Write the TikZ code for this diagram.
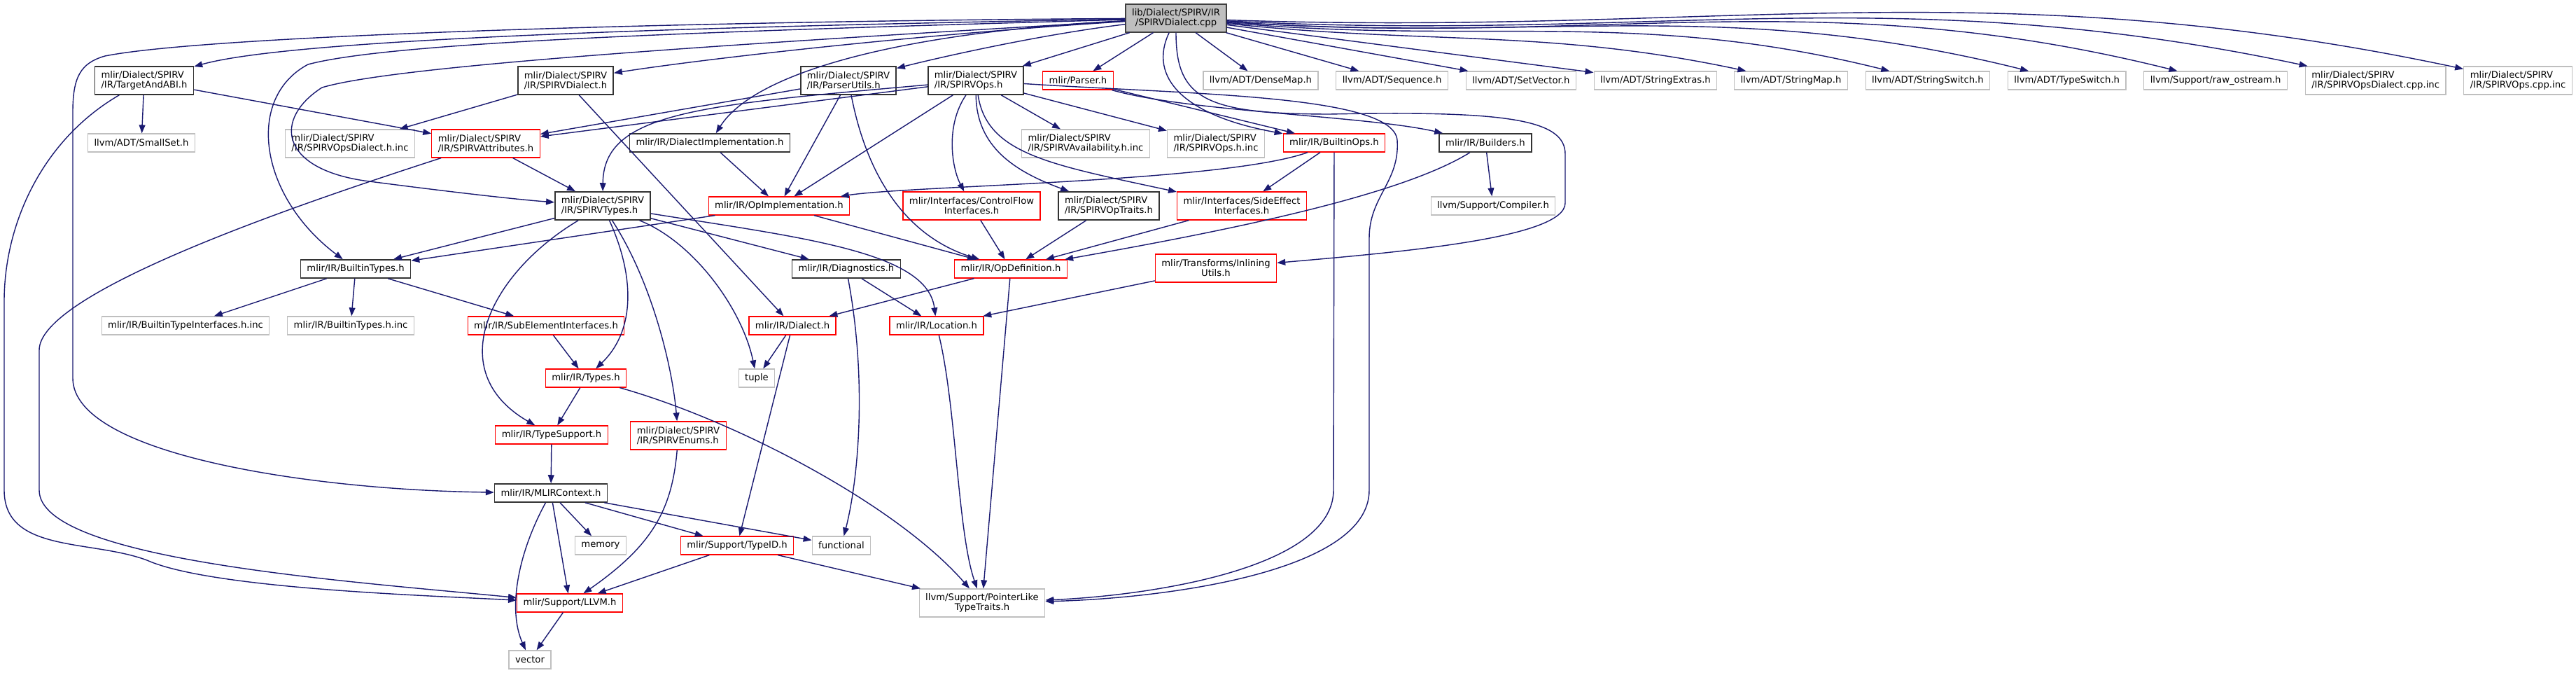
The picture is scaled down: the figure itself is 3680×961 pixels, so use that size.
\documentclass[tikz,border=0pt]{standalone}
\usepackage{xcolor}
\usepackage{fontspec}
\setmainfont{DejaVu Sans}
\usepackage{tikz}
\usetikzlibrary{arrows.meta, positioning}

\definecolor{edgeblue}{HTML}{191970}
\definecolor{leafgray}{HTML}{BFBFBF}

\begin{document}
\begin{tikzpicture}[
        x=0.01cm, y=-0.01cm,
        node distance=0.245cm,
        file/.style={rectangle, inner xsep=0.09cm, inner ysep=0.02cm, minimum height=0.26cm, align=center, font=\fontsize{3.75pt}{4pt}\selectfont, line width=0.35pt},
        two/.style={minimum height=0.40cm},
        lft/.style={align=left},
        cur/.style={file, draw=black!75, fill=leafgray},
        full/.style={file, draw=black!80, line width=0.45pt},
        trunc/.style={file, draw=red},
        leaf/.style={file, draw=leafgray},
        arrow/.style={draw=edgeblue, line width=0.4pt, -{Triangle[length=3.4pt, width=2.5pt]}}
    ]
    \useasboundingbox (0,0) rectangle (3680,961);

    \node (top) [cur, two] at (1680,26) {lib/Dialect/SPIRV/IR\\/SPIRVDialect.cpp};

    \node (tgt) [full, two, lft] at (206,115) {mlir/Dialect/SPIRV\\/IR/TargetAndABI.h};
    \node (dlh) [full, two, lft] at (808,115) {mlir/Dialect/SPIRV\\/IR/SPIRVDialect.h};
    \node (pu) [full, two, lft] at (1212,115) {mlir/Dialect/SPIRV\\/IR/ParserUtils.h};
    \node (ops) [full, two, lft] at (1394,115) {mlir/Dialect/SPIRV\\/IR/SPIRVOps.h};
    \node (parser) [trunc] at (1540,115) {mlir/Parser.h};
    \node (densemap) [leaf] at (1801,115) {llvm/ADT/DenseMap.h};
    \node (sequence) [leaf, right=of densemap] {llvm/ADT/Sequence.h};
    \node (setvector) [leaf, right=of sequence] {llvm/ADT/SetVector.h};
    \node (strextras) [leaf, right=of setvector] {llvm/ADT/StringExtras.h};
    \node (opscpp) [leaf, two, lft, anchor=east] at (3675,115) {mlir/Dialect/SPIRV\\/IR/SPIRVOps.cpp.inc};
    \node (opsdcpp) [leaf, two, lft, left=of opscpp] {mlir/Dialect/SPIRV\\/IR/SPIRVOpsDialect.cpp.inc};
    \node (rawos) [leaf, left=of opsdcpp] {llvm/Support/raw\_ostream.h};
    \node (typeswitch) [leaf, left=of rawos] {llvm/ADT/TypeSwitch.h};
    \node (strswitch) [leaf, left=of typeswitch] {llvm/ADT/StringSwitch.h};
    \node (strmap) [leaf, left=of strswitch] {llvm/ADT/StringMap.h};

    \node (smallset) [leaf] at (202,204) {llvm/ADT/SmallSet.h};
    \node (opsdinc) [leaf, two, lft] at (500,205) {mlir/Dialect/SPIRV\\/IR/SPIRVOpsDialect.h.inc};
    \node (attr) [trunc, two, lft] at (694,205) {mlir/Dialect/SPIRV\\/IR/SPIRVAttributes.h};
    \node (dimpl) [full] at (1014,204) {mlir/IR/DialectImplementation.h};
    \node (avail) [leaf, two, lft] at (1551,205) {mlir/Dialect/SPIRV\\/IR/SPIRVAvailability.h.inc};
    \node (opsinc) [leaf, two, lft] at (1737,205) {mlir/Dialect/SPIRV\\/IR/SPIRVOps.h.inc};
    \node (bops) [trunc] at (1906,204) {mlir/IR/BuiltinOps.h};
    \node (builders) [full] at (2122,204) {mlir/IR/Builders.h};

    \node (types) [full, two, lft] at (861,294) {mlir/Dialect/SPIRV\\/IR/SPIRVTypes.h};
    \node (opimpl) [trunc] at (1113,294) {mlir/IR/OpImplementation.h};
    \node (cfi) [trunc, two] at (1388,294) {mlir/Interfaces/ControlFlow\\Interfaces.h};
    \node (traits) [full, two, lft] at (1584,294) {mlir/Dialect/SPIRV\\/IR/SPIRVOpTraits.h};
    \node (sei) [trunc, two] at (1774,294) {mlir/Interfaces/SideEffect\\Interfaces.h};
    \node (compiler) [leaf] at (2133,294) {llvm/Support/Compiler.h};

    \node (btypes) [full] at (508,384) {mlir/IR/BuiltinTypes.h};
    \node (diag) [full] at (1209,384) {mlir/IR/Diagnostics.h};
    \node (opdef) [trunc] at (1444,384) {mlir/IR/OpDefinition.h};
    \node (inl) [trunc, two] at (1737,383) {mlir/Transforms/Inlining\\Utils.h};

    \node (btiinc) [leaf] at (265,465) {mlir/IR/BuiltinTypeInterfaces.h.inc};
    \node (btinc) [leaf] at (501,465) {mlir/IR/BuiltinTypes.h.inc};
    \node (subel) [trunc] at (780,465) {mlir/IR/SubElementInterfaces.h};
    \node (dialect) [trunc] at (1132,465) {mlir/IR/Dialect.h};
    \node (loc) [trunc] at (1338,465) {mlir/IR/Location.h};

    \node (typesh) [trunc] at (837,540) {mlir/IR/Types.h};
    \node (tuple) [leaf] at (1081,540) {tuple};
    \node (tsup) [trunc] at (788,621) {mlir/IR/TypeSupport.h};
    \node (enums) [trunc, two, lft] at (969,622) {mlir/Dialect/SPIRV\\/IR/SPIRVEnums.h};
    \node (ctx) [full] at (787,704) {mlir/IR/MLIRContext.h};
    \node (memory) [leaf] at (858,779) {memory};
    \node (typeid) [trunc] at (1053,779) {mlir/Support/TypeID.h};
    \node (functional) [leaf] at (1202,779) {functional};
    \node (llvmh) [trunc] at (814,861) {mlir/Support/LLVM.h};
    \node (plt) [leaf, two] at (1403,861) {llvm/Support/PointerLike\\TypeTraits.h};
    \node (vector) [leaf] at (757,942) {vector};

    % includes of the source file
    \draw [arrow] (top) .. controls (1000,38) and (420,55) .. (tgt);
    \draw [arrow] (top) .. controls (1000,30) and (300,50) .. (150,80) .. controls (115,90) and (104,110) .. (104,160) -- (104,540) .. controls (104,650) and (450,700) .. (ctx);
    \draw [arrow] (top) .. controls (1000,45) and (560,60) .. (440,92) .. controls (350,140) and (370,280) .. (btypes);
    \draw [arrow] (top) .. controls (1000,65) and (560,95) .. (460,125) .. controls (390,170) and (400,240) .. (520,258) .. controls (650,275) and (740,285) .. (types);
    \draw [arrow] (top) .. controls (1300,50) and (1000,85) .. (dlh);
    \draw [arrow] (top) .. controls (1300,45) and (1080,100) .. (dimpl);
    \draw [arrow] (top) .. controls (1480,50) and (1330,85) .. (pu);
    \draw [arrow] (top) -- (ops);
    \draw [arrow] (top) -- (parser);
    \draw [arrow] (top) .. controls (1640,110) and (1690,165) .. (bops);
    \draw [arrow] (top) .. controls (1680,140) and (1720,163) .. (1900,163) .. controls (2150,158) and (2236,170) .. (2236,220) -- (2236,290) .. controls (2236,340) and (2000,360) .. (inl);
    \draw [arrow] (top) -- (densemap);
    \draw [arrow] (top) -- (sequence);
    \draw [arrow] (top) -- (setvector);
    \draw [arrow] (top) -- (strextras);
    \draw [arrow] (top) to[out=-6, in=168] (strmap);
    \draw [arrow] (top) to[out=-5, in=166] (strswitch);
    \draw [arrow] (top) to[out=-4, in=166] (typeswitch);
    \draw [arrow] (top) to[out=-4, in=166] (rawos);
    \draw [arrow] (top) to[out=-3, in=168] (opsdcpp);
    \draw [arrow] (top) to[out=-2, in=168] (opscpp);

    \draw [arrow] (tgt) -- (smallset);
    \draw [arrow] (tgt) -- (attr);
    \draw [arrow] (tgt) .. controls (60,200) and (6,320) .. (6,430) -- (6,700) .. controls (6,790) and (130,770) .. (210,800) .. controls (300,840) and (600,850) .. (llvmh);
    \draw [arrow] (dlh) -- (opsdinc);
    \draw [arrow] (dlh) -- (dialect);
    \draw [arrow] (pu) -- (attr);
    \draw [arrow] (pu) -- (opimpl);
    \draw [arrow] (pu) .. controls (1240,260) and (1300,340) .. (opdef);

    \draw [arrow] (ops) -- (attr);
    \draw [arrow] (ops) .. controls (1000,150) and (862,160) .. (types);
    \draw [arrow] (ops) -- (opimpl);
    \draw [arrow] (ops) .. controls (1350,180) and (1360,240) .. (cfi);
    \draw [arrow] (ops) .. controls (1395,210) and (1450,245) .. (traits);
    \draw [arrow] (ops) .. controls (1410,220) and (1500,235) .. (sei);
    \draw [arrow] (ops) -- (avail);
    \draw [arrow] (ops) -- (opsinc);
    \draw [arrow] (ops) .. controls (1700,135) and (1990,135) .. (1996,200) .. controls (2000,260) and (1956,280) .. (1956,340) -- (1956,700) .. controls (1956,820) and (1650,855) .. (plt);
    \draw [arrow] (parser) -- (bops);
    \draw [arrow] (parser) .. controls (1700,160) and (1950,165) .. (builders);

    \draw [arrow] (attr) -- (types);
    \draw [arrow] (attr) .. controls (400,300) and (56,420) .. (56,500) -- (56,700) .. controls (56,800) and (500,830) .. (llvmh);
    \draw [arrow] (dimpl) -- (opimpl);
    \draw [arrow] (bops) .. controls (1750,260) and (1300,265) .. (opimpl);
    \draw [arrow] (bops) -- (sei);
    \draw [arrow] (bops) -- (1905,700) .. controls (1905,810) and (1650,850) .. (plt);
    \draw [arrow] (builders) .. controls (2000,280) and (1750,330) .. (opdef);
    \draw [arrow] (builders) -- (compiler);

    \draw [arrow] (types) -- (btypes);
    \draw [arrow] (types) -- (diag);
    \draw [arrow] (types) .. controls (700,390) and (630,530) .. (tsup);
    \draw [arrow] (types) .. controls (905,390) and (910,470) .. (typesh);
    \draw [arrow] (types) .. controls (930,400) and (960,520) .. (enums);
    \draw [arrow] (types) .. controls (990,345) and (1060,440) .. (tuple);
    \draw [arrow] (types) .. controls (1150,340) and (1325,360) .. (loc);
    \draw [arrow] (opimpl) -- (btypes);
    \draw [arrow] (opimpl) -- (opdef);
    \draw [arrow] (cfi) -- (opdef);
    \draw [arrow] (traits) -- (opdef);
    \draw [arrow] (sei) -- (opdef);

    \draw [arrow] (btypes) -- (btiinc);
    \draw [arrow] (btypes) -- (btinc);
    \draw [arrow] (btypes) -- (subel);
    \draw [arrow] (diag) -- (loc);
    \draw [arrow] (diag) .. controls (1240,550) and (1225,690) .. (functional);
    \draw [arrow] (opdef) -- (dialect);
    \draw [arrow] (opdef) -- (plt);
    \draw [arrow] (inl) -- (loc);

    \draw [arrow] (subel) -- (typesh);
    \draw [arrow] (dialect) -- (tuple);
    \draw [arrow] (dialect) -- (typeid);
    \draw [arrow] (loc) .. controls (1366,580) and (1368,760) .. (plt);
    \draw [arrow] (typesh) -- (tsup);
    \draw [arrow] (typesh) .. controls (1050,600) and (1280,720) .. (plt);
    \draw [arrow] (tsup) -- (ctx);
    \draw [arrow] (enums) .. controls (960,730) and (930,780) .. (llvmh);
    \draw [arrow] (ctx) .. controls (740,790) and (725,870) .. (vector);
    \draw [arrow] (ctx) -- (llvmh);
    \draw [arrow] (ctx) -- (memory);
    \draw [arrow] (ctx) -- (typeid);
    \draw [arrow] (ctx) -- (functional);
    \draw [arrow] (typeid) -- (llvmh);
    \draw [arrow] (typeid) -- (plt);
    \draw [arrow] (llvmh) -- (vector);

\end{tikzpicture}
\end{document}
